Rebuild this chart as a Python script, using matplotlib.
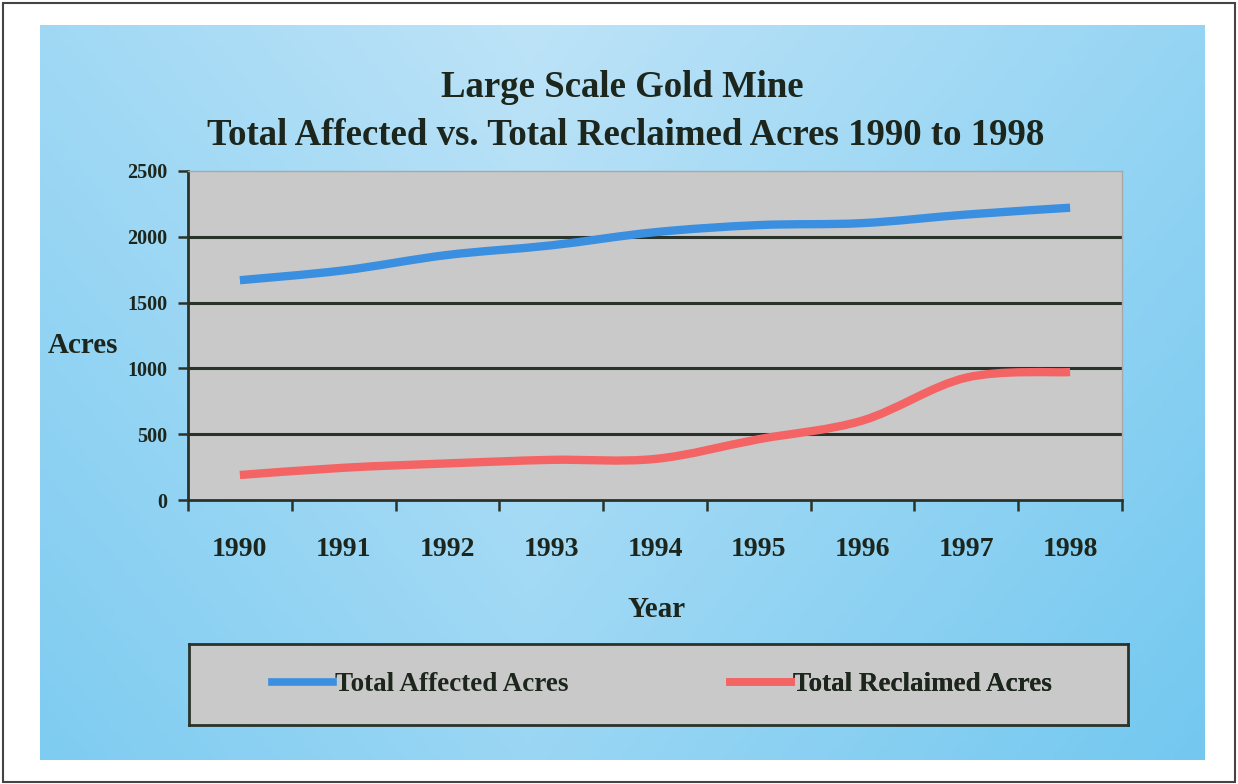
import numpy as np
import matplotlib
matplotlib.use("Agg")
import matplotlib.pyplot as plt
from matplotlib.path import Path
from matplotlib.patches import PathPatch, Rectangle
from matplotlib.lines import Line2D

years = ["1990", "1991", "1992", "1993", "1994", "1995", "1996", "1997", "1998"]
affected = [1670, 1745, 1862, 1935, 2035, 2089, 2104, 2169, 2221]
reclaimed = [190, 245, 278, 305, 312, 462, 604, 930, 972]
y_ticks = [0, 500, 1000, 1500, 2000, 2500]
title_lines = ["Large Scale Gold Mine", "Total Affected vs. Total Reclaimed Acres 1990 to 1998"]
series_names = ["Total Affected Acres", "Total Reclaimed Acres"]
colors = ["#3b8fe0", "#f46464"]

W, H = 1238, 784
plt.rcParams['font.family'] = ['Liberation Serif', 'DejaVu Serif']
TXT = "#1c261c"

fig = plt.figure(figsize=(W / 100, H / 100), dpi=100)
fig.patch.set_facecolor("white")

def fx(px):
    return px / W

def fy(py):
    return 1 - py / H

# outer border
fig.add_artist(Rectangle((fx(3), fy(782)), fx(1232), 779 / H, transform=fig.transFigure,
                         fill=False, edgecolor="#444444", lw=1.5))

# blue gradient panel
bg = fig.add_axes([fx(40), fy(760), fx(1165), 735 / H])
bg.set_axis_off()
nx, ny = 300, 200
xx = np.linspace(0, 1, nx)[None, :]
yy = np.linspace(0, 1, ny)[:, None]
t = 0.55 * np.abs(xx - 0.42) * 1.6 + 0.45 * yy
t = np.clip(t, 0, 1)
light = np.array([0.74, 0.89, 0.97])
dark = np.array([0.44, 0.78, 0.94])
img = light[None, None, :] * (1 - t[..., None]) + dark[None, None, :] * t[..., None]
bg.imshow(img, aspect="auto", extent=[0, 1, 0, 1], origin="upper")
bg.set_xlim(0, 1)
bg.set_ylim(0, 1)

# main plot area
ax = fig.add_axes([fx(188), fy(500), fx(934), 329 / H])
ax.set_facecolor("#c9c9c9")
n = len(years)
xs = np.arange(n) + 0.5
ax.set_xlim(0, n)
ax.set_ylim(0, 2500)


def smooth_path(x, y):
    pts = np.column_stack([x, y]).astype(float)
    verts = [pts[0]]
    codes = [Path.MOVETO]
    for i in range(len(pts) - 1):
        p0 = pts[i - 1] if i > 0 else pts[i]
        p1 = pts[i]
        p2 = pts[i + 1]
        p3 = pts[i + 2] if i + 2 < len(pts) else pts[i + 1]
        c1 = p1 + (p2 - p0) / 6.0
        c2 = p2 - (p3 - p1) / 6.0
        verts += [c1, c2, p2]
        codes += [Path.CURVE4] * 3
    return Path(verts, codes)


for vals, c in zip([affected, reclaimed], colors):
    ax.add_patch(PathPatch(smooth_path(xs, vals), facecolor="none", edgecolor=c,
                           lw=6, capstyle="butt", zorder=3))

for v in y_ticks[1:-1]:
    ax.axhline(v, color="#2a332a", lw=2.2, zorder=2)

for s in ["top", "right"]:
    ax.spines[s].set_color("#a8a8a8")
    ax.spines[s].set_linewidth(1)
for s in ["left", "bottom"]:
    ax.spines[s].set_color("#2a332a")
    ax.spines[s].set_linewidth(2)

ax.set_yticks(y_ticks)
ax.set_yticklabels([str(v) for v in y_ticks], fontsize=14.5, fontweight="bold", color=TXT)
ax.tick_params(axis="y", length=7, width=1.8, color="#2a332a", pad=8)
ax.set_xticks(np.arange(n + 1))
ax.set_xticklabels([])
ax.tick_params(axis="x", which="major", length=8, width=1.8, color="#2a332a", direction="out")
ax.set_xticks(xs, minor=True)
ax.set_xticklabels(years, minor=True, fontsize=20, fontweight="bold", color=TXT)
ax.tick_params(axis="x", which="minor", length=0, pad=27)

# titles
fig.text(fx(622), fy(97), title_lines[0], ha="center", va="baseline", fontsize=26.5,
         fontweight="bold", color=TXT)
fig.text(fx(626), fy(145), title_lines[1], ha="center", va="baseline", fontsize=26.5,
         fontweight="bold", color=TXT)
fig.text(fx(83), fy(353), "Acres", ha="center", va="baseline", fontsize=21,
         fontweight="bold", color=TXT)
fig.text(fx(657), fy(617), "Year", ha="center", va="baseline", fontsize=21,
         fontweight="bold", color=TXT)

# legend box
lax = fig.add_axes([fx(189), fy(725), fx(939), 81 / H])
lax.set_facecolor("#c9c9c9")
lax.set_xticks([])
lax.set_yticks([])
for s in lax.spines.values():
    s.set_color("#2a332a")
    s.set_linewidth(2)
positions = [(272 - 189) / 939, (730 - 189) / 939]
for name, c, px in zip(series_names, colors, positions):
    h = Line2D([], [], color=c, lw=5.5)
    leg = lax.legend(handles=[h], labels=[name], loc="center left", bbox_to_anchor=(px, 0.5),
                     frameon=False, handlelength=2.25, handletextpad=0.07,
                     borderpad=0, borderaxespad=0,
                     prop={"weight": "bold", "size": 19.5})
    for tx in leg.get_texts():
        tx.set_color(TXT)
    lax.add_artist(leg)

fig.savefig("out.png", dpi=100, facecolor=fig.get_facecolor())
